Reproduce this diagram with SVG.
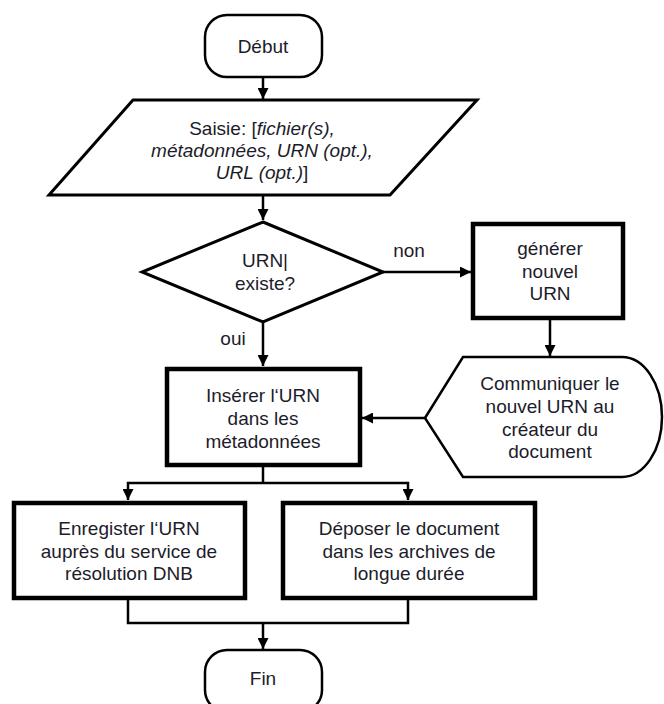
<svg xmlns="http://www.w3.org/2000/svg" width="664" height="704" viewBox="0 0 664 704">
  <style>
    text { font-family: "Liberation Sans", Arial, sans-serif; font-size: 19px; fill: #1c1c2a; text-anchor: middle; }
    .it { font-style: italic; }
    .thin { fill: #fff; stroke: #000; stroke-width: 2.5; }
    .mid { fill: #fff; stroke: #000; stroke-width: 3; }
    .box { fill: #fff; stroke: #000; stroke-width: 4.5; }
    .wire { fill: none; stroke: #000; stroke-width: 2.5; }
    .arrow { fill: none; stroke: #000; stroke-width: 2.5; marker-end: url(#head); }
  </style>
  <defs>
    <marker id="head" viewBox="0 0 10 10" refX="10" refY="5" markerWidth="4.4" markerHeight="4.4" orient="auto" markerUnits="strokeWidth">
      <path d="M0,0 L10,5 L0,10 Z" fill="#000"/>
    </marker>
  </defs>
  <rect width="664" height="704" fill="#fff"/>

  <g id="connectors">
    <line class="arrow" x1="263" y1="77" x2="263" y2="99"/>
    <line class="arrow" x1="263" y1="196" x2="263" y2="220"/>
    <line class="arrow" x1="383" y1="272" x2="471" y2="272"/>
    <line class="arrow" x1="263" y1="322" x2="263" y2="366"/>
    <line class="arrow" x1="550" y1="320" x2="550" y2="356"/>
    <line class="arrow" x1="425" y1="418" x2="362" y2="418"/>
    <polyline class="wire" points="263,467 263,483"/>
    <polyline class="arrow" points="263,483 128,483 128,500"/>
    <polyline class="arrow" points="263,483 408,483 408,500"/>
    <polyline class="wire" points="128,600 128,623 408,623 408,600"/>
    <line class="arrow" x1="263" y1="623" x2="263" y2="649"/>
    <text x="409" y="257">non</text>
    <text x="233" y="345">oui</text>
  </g>

  <g id="debut">
    <rect class="thin" x="205" y="15" width="117" height="62" rx="22" ry="22"/>
    <text x="263" y="53">Début</text>
  </g>

  <g id="saisie">
    <polygon class="mid" points="133,100 477,100 390,195 49,195"/>
    <text x="262" y="135">Saisie: [<tspan class="it">fichier(s),</tspan></text>
    <text x="262" y="157" class="it">métadonnées, URN (opt.),</text>
    <text x="262" y="179"><tspan class="it">URL (opt.)</tspan>]</text>
  </g>

  <g id="urn-existe">
    <polygon class="mid" points="263,222 383,272 263,322 142,272"/>
    <text x="265" y="267">URN|</text>
    <text x="265" y="290">existe?</text>
  </g>

  <g id="generer">
    <rect class="box" x="473" y="224" width="150" height="94"/>
    <text x="550" y="255">générer</text>
    <text x="550" y="278">nouvel</text>
    <text x="550" y="300">URN</text>
  </g>

  <g id="communiquer">
    <path class="thin" d="M425,418 L463,357 L622,357 A40,60 0 0 1 622,477 L463,477 Z"/>
    <text x="550" y="390">Communiquer le</text>
    <text x="550" y="413">nouvel URN au</text>
    <text x="550" y="436">créateur du</text>
    <text x="550" y="458">document</text>
  </g>

  <g id="inserer">
    <rect class="box" x="167" y="369" width="193" height="96"/>
    <text x="263" y="402">Insérer l‘URN</text>
    <text x="263" y="425">dans les</text>
    <text x="263" y="448">métadonnées</text>
  </g>

  <g id="enregistrer">
    <rect class="box" x="14" y="503" width="231" height="95"/>
    <text x="129" y="535">Enregister l‘URN</text>
    <text x="129" y="558">auprès du service de</text>
    <text x="129" y="580">résolution DNB</text>
  </g>

  <g id="deposer">
    <rect class="box" x="283" y="503" width="252" height="95"/>
    <text x="409" y="535">Déposer le document</text>
    <text x="409" y="558">dans les archives de</text>
    <text x="409" y="580">longue durée</text>
  </g>

  <g id="fin">
    <rect class="thin" x="205" y="650" width="117" height="62" rx="22" ry="22"/>
    <text x="263" y="685">Fin</text>
  </g>
</svg>
